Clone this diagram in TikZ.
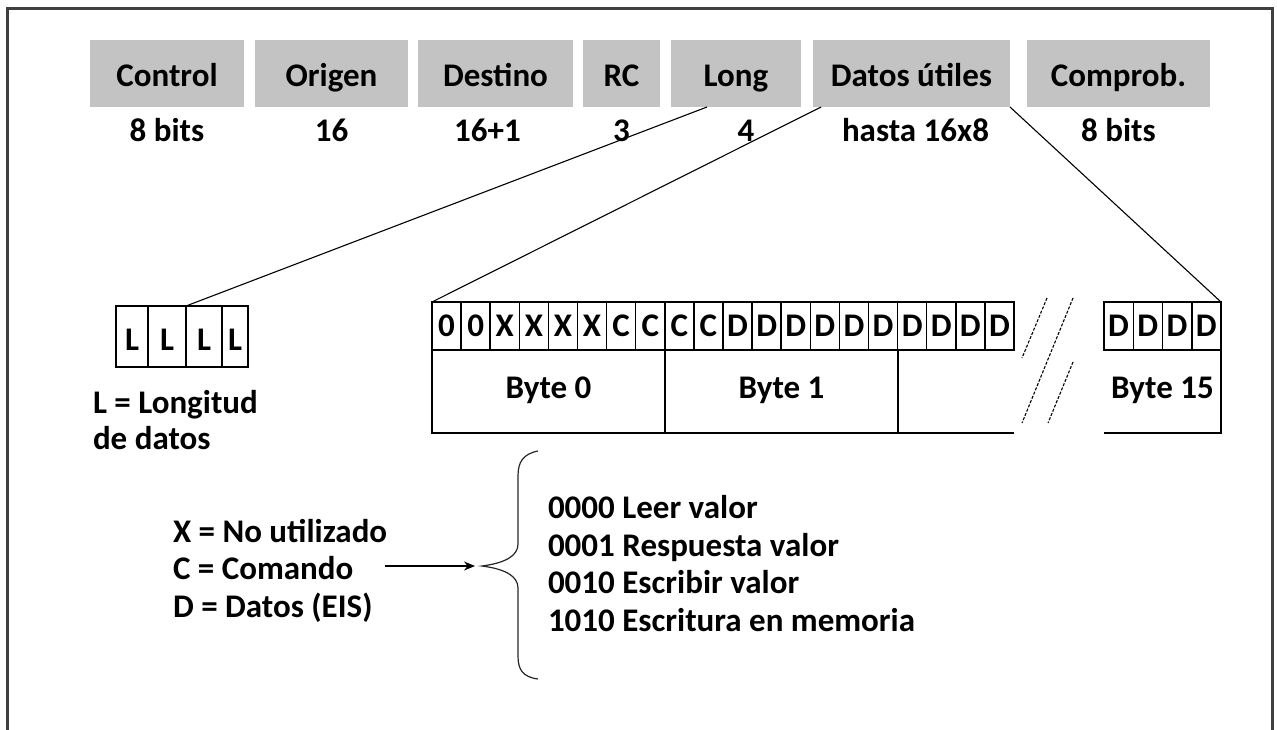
\documentclass[tikz,border=0pt]{standalone}
\usepackage{fontspec}
\setmainfont{Carlito}
\usetikzlibrary{arrows.meta,calc}
\definecolor{hdrgray}{RGB}{195,195,195}
\definecolor{framegray}{RGB}{64,64,64}
\begin{document}
\begin{tikzpicture}[x=1pt,y=-1pt,
  every node/.style={font=\fontsize{33}{39}\selectfont\bfseries, inner sep=0pt, outer sep=0pt},
  hdr/.style={fill=hdrgray, anchor=north west, minimum height=67pt, text height=25pt, text depth=0pt},
  cell/.style={draw=black, line width=1.5pt, anchor=north west, minimum width=29.1pt, minimum height=48pt, text height=20pt, text depth=0pt},
  rcell/.style={cell, minimum width=29.25pt},
  lcell/.style={draw=black, line width=1.5pt, anchor=north west, minimum height=61pt, text height=27pt, text depth=0pt},
  bytebox/.style={anchor=north west, minimum width=233pt, minimum height=83pt, text height=13pt, text depth=0pt},
  conn/.style={line width=1.1pt, black},
  brk/.style={line width=1.1pt, black, dash pattern=on 3pt off 1.6pt},
  lbl/.style={anchor=base},
  txt/.style={anchor=base west},
]
\useasboundingbox (0,0) rectangle (1277,729);
% outer frame, open at the bottom
\draw[line width=3pt, framegray] (7,735) -- (7,8) -- (1272,8) -- (1272,735);

% frame fields
\node[hdr, minimum width=154pt] (ctl)   at (90,40)   {Control};
\node[hdr, minimum width=153pt] (orig)  at (255,40)  {Origen};
\node[hdr, minimum width=155pt] (dest)  at (418,40)  {Destino};
\node[hdr, minimum width=77pt]  (rc)    at (583,40)  {RC};
\node[hdr, minimum width=130pt] (long)  at (671,40)  {Long};
\node[hdr, minimum width=197pt] (datos) at (813,40)  {Datos útiles};
\node[hdr, minimum width=183pt] (comp)  at (1027,40) {Comprob.};

% field sizes
\node[lbl] (sctl)   at (ctl.south   |- 0,141) {8 bits};
\node[lbl] (sorig)  at (orig.south  |- 0,141) {16};
\node[lbl] (sdest)  at ([xshift=-8pt]dest.south |- 0,141) {16+1};
\node[lbl] (src)    at (rc.south    |- 0,141) {3};
\node[lbl] (slong)  at ([xshift=10pt]long.south |- 0,141) {4};
\node[lbl] (sdatos) at ([xshift=4pt]datos.south |- 0,141) {hasta 16x8};
\node[lbl] (scomp)  at (comp.south  |- 0,141) {8 bits};

% length field bits
\node[lcell, minimum width=32pt] (l1) at (116,306) {L};
\node[lcell, minimum width=38pt] (l2) at (148,306) {L};
\node[lcell, minimum width=36pt] (l3) at (186,306) {L};
\node[lcell, minimum width=26pt] (l4) at (222,306) {L};
\node[txt] (lleg1) at (93,413) {L = Longitud};
\node[txt] (lleg2) at (93,449) {de datos};

% payload bits
\foreach \v [count=\i] in {0,0,X,X,X,X,C,C,C,C,D,D,D,D,D,D,D,D,D,D}
  \node[cell] (b\i) at ({432+(\i-1)*29.1},302) {\v};
\foreach \i in {1,...,4}
  \node[rcell] (r\i) at ({1104+(\i-1)*29.25},302) {D};

% bytes
\node[bytebox, draw=black, line width=1.5pt] (byte0) at (432,350) {Byte 0};
\node[bytebox, draw=black, line width=1.5pt] (byte1) at (665,350) {Byte 1};
\draw[line width=1.5pt] (byte1.south east) -- (byte1.south east -| b20.east);
\node[bytebox, minimum width=117pt] (byte15) at (1104,350) {Byte 15};
\draw[line width=1.5pt] (byte15.south west) -- (byte15.south east) -- (r4.south east);

% break marks
\coordinate (ka1) at (1047,298); \coordinate (ka2) at (1022,358);
\coordinate (kb1) at (1073,298); \coordinate (kb2) at (1022,423);
\coordinate (kc1) at (1073,362); \coordinate (kc2) at (1048,423);
\draw[brk] (ka1) -- (ka2);
\draw[brk] (kb1) -- (kb2);
\draw[brk] (kc1) -- (kc2);

% expansion lines
\draw[conn] ($(long.south west)!0.277!(long.south east)$) -- (l3.north west);
\draw[conn] ($(datos.south west)+(8,0)$) -- (b1.north west);
\draw[conn] (datos.south east) -- (r4.north east);

% legend
\node[txt] (lx) at (173,542) {X = No utilizado};
\node[txt] (lc) at (173,579.5) {C = Comando};
\node[txt] (ld) at (173,617) {D = Datos (EIS)};

% command brace
\coordinate (btop) at (538,451);
\coordinate (btip) at (482,566);
\coordinate (bbot) at (538,679);
\draw[line width=1.2pt, black!85] (btop) .. controls (523,454) and (518,462) .. (518,476)
  -- (518,544) .. controls (518,556) and (505,563) .. (btip)
  .. controls (505,569) and (518,576) .. (518,588)
  -- (518,656) .. controls (518,670) and (523,677) .. (bbot);
\coordinate (astart) at (385,566);
\draw[line width=1.4pt, -{Stealth[length=11pt,width=9pt]}] (astart) -- ([xshift=-7pt]btip);

% commands
\node[txt] (c1) at (548,518) {0000 Leer valor};
\node[txt] (c2) at (548,556) {0001 Respuesta valor};
\node[txt] (c3) at (548,593) {0010 Escribir valor};
\node[txt] (c4) at (548,631) {1010 Escritura en memoria};
\end{tikzpicture}
\end{document}
